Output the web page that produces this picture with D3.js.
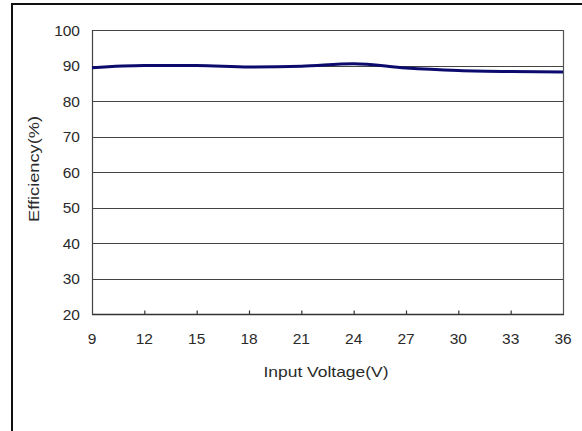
<!DOCTYPE html>
<html>
<head>
<meta charset="utf-8">
<script src="https://cdn.jsdelivr.net/npm/d3@7"></script>
<style>
  html, body { margin: 0; padding: 0; background: #fff; }
  svg { display: block; }
  text { font-family: "Liberation Sans", Arial, sans-serif; fill: #2a2a2a; }
</style>
</head>
<body>
<svg id="chart" width="582" height="431"></svg>
<script>
// Efficiency vs. input voltage
const voltages = [9, 12, 15, 18, 21, 24, 27, 30, 33, 36];
const efficiency = [89.4, 90.0, 90.0, 89.6, 89.8, 90.5, 89.3, 88.6, 88.3, 88.2];
const xTicks = [9, 12, 15, 18, 21, 24, 27, 30, 33, 36];
const yTicks = [20, 30, 40, 50, 60, 70, 80, 90, 100];

const svg = d3.select("#chart");
const plot = { left: 92, top: 30, right: 563, bottom: 314 };

const x = d3.scaleLinear().domain([9, 36]).range([plot.left, plot.right]);
const y = d3.scaleLinear().domain([20, 100]).range([plot.bottom, plot.top]);

// outer frame
svg.append("path")
  .attr("d", `M12,431 L12,4 L582,4`)
  .attr("fill", "none")
  .attr("stroke", "#111")
  .attr("stroke-width", 2);

// horizontal gridlines
svg.append("g")
  .selectAll("line")
  .data(yTicks.filter(v => v > 20))
  .join("line")
  .attr("x1", plot.left).attr("x2", plot.right)
  .attr("y1", d => Math.round(y(d)) + 0.5).attr("y2", d => Math.round(y(d)) + 0.5)
  .attr("stroke", "#444")
  .attr("stroke-width", 1.2);

// plot border (left, right)
svg.append("line")
  .attr("x1", plot.left + 0.5).attr("x2", plot.left + 0.5)
  .attr("y1", plot.top).attr("y2", plot.bottom)
  .attr("stroke", "#444").attr("stroke-width", 1.2);
svg.append("line")
  .attr("x1", plot.right + 0.5).attr("x2", plot.right + 0.5)
  .attr("y1", plot.top).attr("y2", plot.bottom)
  .attr("stroke", "#555").attr("stroke-width", 1.2);

// x axis (ticks point up into the plot)
const xAxis = d3.axisTop(x)
  .tickValues(xTicks.filter(v => v > 9 && v < 36))
  .tickSize(4)
  .tickFormat("");
const gx = svg.append("g")
  .attr("transform", `translate(0,${Math.round(plot.bottom) + 0.5})`)
  .call(xAxis);
gx.select(".domain").remove();
gx.selectAll(".tick line").attr("stroke", "#333").attr("stroke-width", 1.2);
svg.append("line")
  .attr("x1", plot.left).attr("x2", plot.right + 1)
  .attr("y1", plot.bottom + 0.5).attr("y2", plot.bottom + 0.5)
  .attr("stroke", "#333").attr("stroke-width", 1.4);

// x tick labels
svg.append("g")
  .selectAll("text")
  .data(xTicks)
  .join("text")
  .attr("x", d => x(d))
  .attr("y", 344)
  .attr("text-anchor", "middle")
  .attr("font-size", 15.5)
  .text(d => d);

// y tick labels
svg.append("g")
  .selectAll("text")
  .data(yTicks)
  .join("text")
  .attr("x", 80)
  .attr("y", d => y(d) + 5.5)
  .attr("text-anchor", "end")
  .attr("font-size", 15.5)
  .text(d => d);

// axis titles
svg.append("text")
  .attr("x", 326)
  .attr("y", 377)
  .attr("text-anchor", "middle")
  .attr("font-size", 15)
  .attr("textLength", 125)
  .attr("lengthAdjust", "spacingAndGlyphs")
  .text("Input Voltage(V)");

svg.append("text")
  .attr("transform", `translate(39,${(plot.top + plot.bottom) / 2 - 3}) rotate(-90)`)
  .attr("text-anchor", "middle")
  .attr("font-size", 15)
  .attr("textLength", 106)
  .attr("lengthAdjust", "spacingAndGlyphs")
  .text("Efficiency(%)");

// efficiency curve
const line = d3.line()
  .x((d, i) => x(voltages[i]))
  .y(d => y(d))
  .curve(d3.curveMonotoneX);

svg.append("path")
  .datum(efficiency)
  .attr("d", line)
  .attr("fill", "none")
  .attr("stroke", "#0b0b6e")
  .attr("stroke-width", 3);
</script>
</body>
</html>
